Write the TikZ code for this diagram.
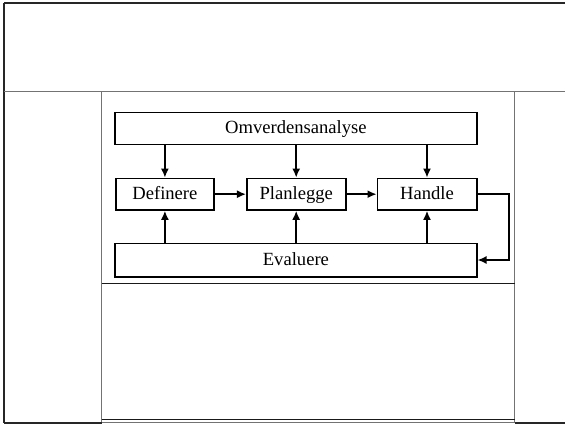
\documentclass[tikz,border=0pt]{standalone}
\usepackage{fontspec}
\setmainfont{Liberation Serif}
\usetikzlibrary{arrows.meta}
\begin{document}
\begin{tikzpicture}[x=1pt,y=-1pt,
  box/.style={draw=black,line width=1.6pt,rectangle,inner sep=0pt,minimum height=31.7pt,
    text height=13pt,text depth=3pt,
    font=\fontsize{18.6}{20}\selectfont},
  arr/.style={line width=1.5pt,-{Latex[length=9pt,width=8pt]}},
  frame/.style={line width=1pt,draw=black!55},
  framedark/.style={line width=1.2pt,draw=black!85}]
\useasboundingbox (0,0) rectangle (565,426);
% table frame
\draw[framedark] (4,3) -- (566,3);
\draw[framedark] (4,3) -- (4,423);
\draw[frame] (4,91) -- (566,91);
\draw[frame] (101.5,91) -- (101.5,423);
\draw[frame] (514.5,91) -- (514.5,423);
\draw[line width=0.9pt,black!90] (101.5,283.3) -- (514.5,283.3);
\draw[framedark] (4,423) -- (101.5,423);
\draw[line width=0.9pt,black!90] (101.5,419.7) -- (514.5,419.7);
\draw[frame] (101.5,422.8) -- (514.5,422.8);
\draw[framedark] (514.5,423) -- (566,423);
% nodes
\node[box,minimum width=361.7pt] (om) at (295.9,128.5) {Omverdensanalyse};
\node[box,minimum width=98.3pt] (def) at (164.9,194.2) {Definere};
\node[box,minimum width=99pt] (pla) at (296.2,194.2) {Planlegge};
\node[box,minimum width=99.4pt] (han) at (427,194.2) {Handle};
\node[box,minimum width=361.7pt,minimum height=33.4pt] (ev) at (295.9,260) {Evaluere};
% connectors
\foreach \n in {def,pla,han}{
  \draw[arr] (om.south -| \n) -- (\n.north);
  \draw[arr] (ev.north -| \n) -- (\n.south);
}
\draw[arr] (def.east) -- (pla.west);
\draw[arr] (pla.east) -- (han.west);
\draw[arr] (han.east) -- ++(31.6,0) |- (ev.east);
\end{tikzpicture}
\end{document}
